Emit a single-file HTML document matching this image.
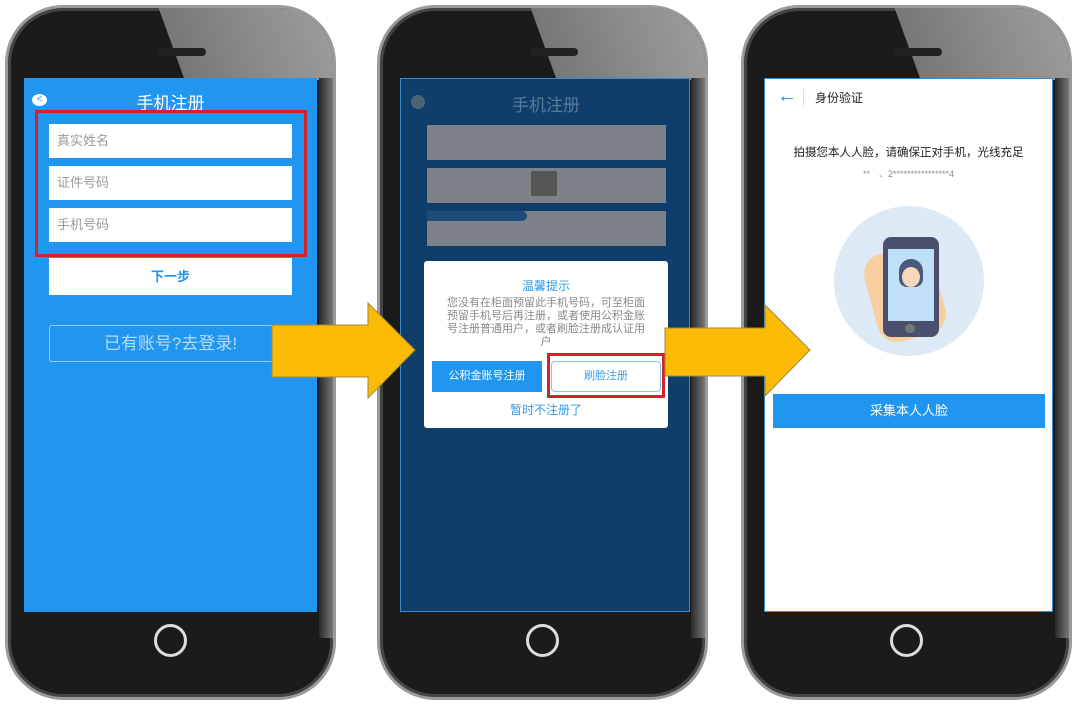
<!DOCTYPE html>
<html><head><meta charset="utf-8"><style>
*{margin:0;padding:0;box-sizing:border-box}
body{width:1080px;height:705px;background:#fff;position:relative;overflow:hidden;font-family:"Liberation Sans","Noto Sans CJK SC",sans-serif}
.ph{position:absolute;top:5px;width:331px;height:695px;border-radius:58px;background:#1b1b1b;border:3px solid #9a9a9a;box-shadow:inset 0 0 0 3px #444;overflow:hidden}
.ph .gl{position:absolute;left:160px;top:-20px;width:300px;height:92px;background:linear-gradient(90deg,#777,#bbb);transform:skewX(20deg)}
.ph .rs{position:absolute;right:0;top:70px;width:14px;height:560px;background:linear-gradient(90deg,#2a2a2a,#777)}
.ph .sp{position:absolute;left:150px;top:40px;width:48px;height:8px;border-radius:4px;background:#222}
.scr{position:absolute;top:78px;height:534px;overflow:hidden}
.home{position:absolute;top:624px;width:33px;height:33px;border:3px solid #ddd;border-radius:50%}
.ab{position:absolute;white-space:nowrap}
.in{position:absolute;background:#fff;color:#999;font-size:13px;padding-left:8px;line-height:34px}
</style></head><body>

<div class="ph" style="left:5px"><div class="gl"></div><div class="rs"></div><div class="sp"></div></div>
<div class="ph" style="left:377px"><div class="gl"></div><div class="rs"></div><div class="sp"></div></div>
<div class="ph" style="left:741px"><div class="gl"></div><div class="rs"></div><div class="sp"></div></div>
<div class="home" style="left:154px"></div>
<div class="home" style="left:526px"></div>
<div class="home" style="left:890px"></div>

<!-- screen 1 -->
<div class="scr" style="left:24px;width:293px;background:#2196f0">
 <div class="ab" style="left:8px;top:16px;width:15px;height:12px;border-radius:50%;background:#fff;color:#2196f0;font-size:10px;text-align:center;line-height:12px">&lt;</div>
 <div class="ab" style="left:0;width:293px;text-align:center;top:11px;color:#fff;font-size:17px">手机注册</div>
 <div class="ab" style="left:11px;top:32px;width:272px;height:147px;border:3px solid #d2232a"></div>
 <div class="in" style="left:25px;top:46px;width:243px;height:34px">真实姓名</div>
 <div class="in" style="left:25px;top:88px;width:243px;height:34px">证件号码</div>
 <div class="in" style="left:25px;top:130px;width:243px;height:34px">手机号码</div>
 <div class="in" style="left:25px;top:180px;width:243px;height:37px;line-height:37px;padding:0;text-align:center;color:#2196f0;font-weight:bold">下一步</div>
 <div class="ab" style="left:25px;top:247px;width:243px;height:37px;border:1px solid #9ccdf5;border-radius:3px;color:#b5dcfa;text-align:center;line-height:35px;font-size:17px">已有账号?去登录!</div>
</div>

<!-- screen 2 -->
<div class="scr" style="left:400px;width:290px;background:#0e3e69;border:1px solid #3a8ad0">
 <div class="ab" style="left:10px;top:16px;width:14px;height:14px;border-radius:50%;background:#4d6378"></div>
 <div class="ab" style="left:0;width:290px;text-align:center;top:12px;color:#5b7a98;font-size:17px">手机注册</div>
 <div class="ab" style="left:26px;top:46px;width:239px;height:35px;background:#7d8288"></div>
 <div class="ab" style="left:26px;top:89px;width:239px;height:35px;background:#7d8288"></div>
 <div class="ab" style="left:130px;top:92px;width:26px;height:25px;background:#555"></div>
 <div class="ab" style="left:26px;top:132px;width:239px;height:35px;background:#7d8288"></div>
 <div class="ab" style="left:26px;top:132px;width:100px;height:10px;background:#1b4c7a;border-radius:0 8px 8px 0"></div>
 <div class="ab" style="left:23px;top:182px;width:244px;height:167px;background:#fff;border-radius:3px">
  <div class="ab" style="left:0;width:244px;text-align:center;top:16px;color:#2f9ae8;font-size:12px">温馨提示</div>
  <div class="ab" style="left:18px;width:208px;top:36px;color:#888;font-size:11px;line-height:13px;white-space:normal;text-align:center">您没有在柜面预留此手机号码，可至柜面预留手机号后再注册，或者使用公积金账号注册普通用户，或者刷脸注册成认证用户</div>
  <div class="ab" style="left:8px;top:100px;width:110px;height:31px;background:#2196f0;color:#fff;font-size:11px;text-align:center;line-height:31px">公积金账号注册</div>
  <div class="ab" style="left:123px;top:92px;width:118px;height:45px;border:3px solid #d2232a"></div>
  <div class="ab" style="left:127px;top:100px;width:110px;height:31px;border:1px solid #8cc2ee;border-radius:4px;color:#3d9de6;font-size:11px;text-align:center;line-height:29px">刷脸注册</div>
  <div class="ab" style="left:0;width:244px;text-align:center;top:140px;color:#2f9ae8;font-size:12px">暂时不注册了</div>
 </div>
</div>

<!-- screen 3 -->
<div class="scr" style="left:764px;width:289px;background:#fff;border:1px solid #3a8ad0">
 <div class="ab" style="left:12px;top:6px;color:#2f8fe0;font-size:20px">←</div>
 <div class="ab" style="left:38px;top:10px;width:1px;height:18px;background:#ddd"></div>
 <div class="ab" style="left:50px;top:10px;color:#222;font-size:12px">身份验证</div>
 <div class="ab" style="left:0;width:287px;text-align:center;top:65px;color:#222;font-size:11.5px">拍摄您本人人脸，请确保正对手机，光线充足</div>
 <div class="ab" style="left:0;width:287px;text-align:center;top:88px;color:#888;font-size:9px">**　、2****************4</div>
 <div class="ab" style="left:69px;top:127px;width:150px;height:150px;border-radius:50%;background:#dde9f4"></div>
 <div class="ab" style="left:105px;top:170px;width:70px;height:90px;border-radius:20px;background:#f7cfa1;transform:rotate(-15deg)"></div>
 <div class="ab" style="left:118px;top:158px;width:56px;height:100px;border-radius:8px;background:#4a4f6d"></div>
 <div class="ab" style="left:123px;top:170px;width:46px;height:72px;background:#bfe0f7"></div>
 <div class="ab" style="left:134px;top:180px;width:24px;height:28px;border-radius:12px 12px 8px 8px;background:#4a5a7c"></div>
 <div class="ab" style="left:137px;top:188px;width:18px;height:20px;border-radius:50%;background:#f8d8b8"></div>
 <div class="ab" style="left:140px;top:245px;width:10px;height:9px;border-radius:50%;background:#777"></div>
 <div class="ab" style="left:8px;top:315px;width:272px;height:34px;background:#2196f0;color:#fff;font-size:13px;text-align:center;line-height:34px">采集本人人脸</div>
</div>

<!-- arrows -->
<svg class="ab" style="left:0;top:0" width="1080" height="705">
 <polygon points="272,325 368,325 368,303 415,350 368,398 368,377 272,377" fill="#fbbb04" stroke="#a08a3a" stroke-width="1"/>
 <polygon points="665,328 765,328 765,305 810,350 765,396 765,376 665,376" fill="#fbbb04" stroke="#a08a3a" stroke-width="1"/>
</svg>
</body></html>
